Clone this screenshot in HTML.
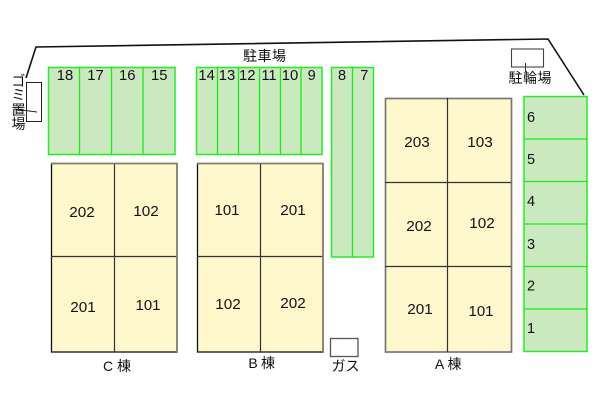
<!DOCTYPE html>
<html>
<head>
<meta charset="utf-8">
<style>
html,body{margin:0;padding:0;background:#fff;width:600px;height:400px;overflow:hidden}
svg{display:block}
text{font-family:"Liberation Sans","Noto Sans CJK JP",sans-serif;font-size:14.500px;fill:#111;text-anchor:middle}
.g{fill:#cbe9bf;stroke:#22f022;stroke-width:1.500}
.gl{stroke:#14ee14;stroke-width:1.300;fill:none}
.y{fill:#fff8cc;stroke:#111;stroke-width:1.300}
.yg{fill:#fff8cc;stroke:#777;stroke-width:1.700}
.l{stroke:#333;stroke-width:1.200;fill:none}
.e{stroke:#857f66;stroke-width:1.600;fill:none}
.j{font-size:14px}
</style>
</head>
<body>
<svg width="600" height="400" viewBox="0 0 600 400" xmlns="http://www.w3.org/2000/svg">
<polyline points="26,78 36,47 548,39 584,95" fill="none" stroke="#111" stroke-width="1.600"/>

<!-- parking 15-18 -->
<rect class="g" x="48.500" y="67.500" width="126.500" height="87"/>
<path class="gl" d="M79.500 67V154M111.500 67V154M143 67V154"/>
<text x="65" y="80" textLength="16.500" lengthAdjust="spacingAndGlyphs">18</text><text x="95.500" y="80" textLength="16.500" lengthAdjust="spacingAndGlyphs">17</text><text x="127.300" y="80" textLength="16.500" lengthAdjust="spacingAndGlyphs">16</text><text x="159.300" y="80" textLength="16.500" lengthAdjust="spacingAndGlyphs">15</text>

<!-- parking 9-14 -->
<rect class="g" x="196.500" y="67.500" width="125.500" height="87"/>
<path class="gl" d="M217.500 67V154M238.500 67V154M259.500 67V154M280.500 67V154M301 67V154"/>
<text x="206.700" y="80" textLength="16.500" lengthAdjust="spacingAndGlyphs">14</text><text x="227" y="80" textLength="16.500" lengthAdjust="spacingAndGlyphs">13</text><text x="247.300" y="80" textLength="16.500" lengthAdjust="spacingAndGlyphs">12</text><text x="269" y="80" textLength="15" lengthAdjust="spacingAndGlyphs">11</text><text x="290" y="80" textLength="16.500" lengthAdjust="spacingAndGlyphs">10</text><text x="311.700" y="80">9</text>

<!-- parking 7-8 -->
<rect class="g" x="331.500" y="67.500" width="42" height="189.500"/>
<path class="gl" d="M352.500 67V257"/>
<text x="342" y="80">8</text><text x="364.300" y="80">7</text>

<!-- parking 1-6 -->
<rect class="g" x="524" y="96.500" width="63" height="255"/>
<path class="gl" d="M524 139H587M524 181.500H587M524 224H587M524 266.500H587M524 309H587"/>
<text x="531" y="122">6</text><text x="531" y="164">5</text><text x="531" y="206">4</text><text x="531" y="249">3</text><text x="531" y="290.500">2</text><text x="531" y="333">1</text>

<!-- C -->
<rect class="y" x="51.500" y="163.500" width="125.500" height="188.500"/>
<path class="l" d="M114.500 163V352M51 256.500H177"/>
<path class="e" d="M177 163V352M51 163.500H177"/>
<text x="82" y="217" textLength="25.500" lengthAdjust="spacingAndGlyphs">202</text><text x="146" y="216" textLength="25.500" lengthAdjust="spacingAndGlyphs">102</text><text x="83" y="312" textLength="25.500" lengthAdjust="spacingAndGlyphs">201</text><text x="148" y="310" textLength="25" lengthAdjust="spacingAndGlyphs">101</text>

<!-- B -->
<rect class="y" x="197.500" y="163.500" width="125.500" height="188.500"/>
<path class="l" d="M260.500 163V352M197 256.500H323"/>
<path class="e" d="M323 163V352M197 163.500H323"/>
<text x="227" y="215" textLength="25" lengthAdjust="spacingAndGlyphs">101</text><text x="293" y="215" textLength="25.500" lengthAdjust="spacingAndGlyphs">201</text><text x="228" y="309" textLength="25.500" lengthAdjust="spacingAndGlyphs">102</text><text x="293" y="308" textLength="25.500" lengthAdjust="spacingAndGlyphs">202</text>

<!-- A -->
<rect class="yg" x="385.500" y="98.500" width="126" height="253.500"/>
<path class="l" d="M447.500 98V352M385 182.500H511M385 266.500H511"/>
<text x="417" y="147" textLength="25.500" lengthAdjust="spacingAndGlyphs">203</text><text x="480" y="147" textLength="25.500" lengthAdjust="spacingAndGlyphs">103</text><text x="419" y="231" textLength="25.500" lengthAdjust="spacingAndGlyphs">202</text><text x="482" y="228" textLength="25.500" lengthAdjust="spacingAndGlyphs">102</text><text x="420" y="314" textLength="25.500" lengthAdjust="spacingAndGlyphs">201</text><text x="481" y="316" textLength="25" lengthAdjust="spacingAndGlyphs">101</text>

<!-- gomi -->
<rect x="26.500" y="82.500" width="15" height="39" fill="#fff" stroke="#222" stroke-width="1"/>
<line x1="14" y1="109" x2="37" y2="112" stroke="#222" stroke-width="0.900"/>
<text class="j" x="18.500" y="86">ゴ</text>
<text class="j" x="18.500" y="100">ミ</text>
<text class="j" x="18.500" y="115">置</text>
<text class="j" x="18.500" y="129">場</text>

<!-- bike -->
<rect x="511.500" y="49" width="32" height="18" fill="#fff" stroke="#444" stroke-width="1.100"/>
<line x1="525.500" y1="63" x2="525.500" y2="72" stroke="#222" stroke-width="0.900"/>
<text class="j" x="530" y="83" textLength="43" lengthAdjust="spacing">駐輪場</text>

<text class="j" x="264.500" y="61" textLength="43" lengthAdjust="spacing">駐車場</text>

<!-- gas -->
<rect x="330.500" y="338.500" width="27.500" height="18" fill="#fff" stroke="#555" stroke-width="1.300"/>
<text class="j" x="345.500" y="371">ガス</text>

<text class="j" x="108" y="371">C</text><text class="j" x="124" y="371">棟</text>
<text class="j" x="253" y="368">B</text><text class="j" x="268" y="368">棟</text>
<text class="j" x="439.500" y="369">A</text><text class="j" x="454.500" y="369">棟</text>
</svg>
</body>
</html>
